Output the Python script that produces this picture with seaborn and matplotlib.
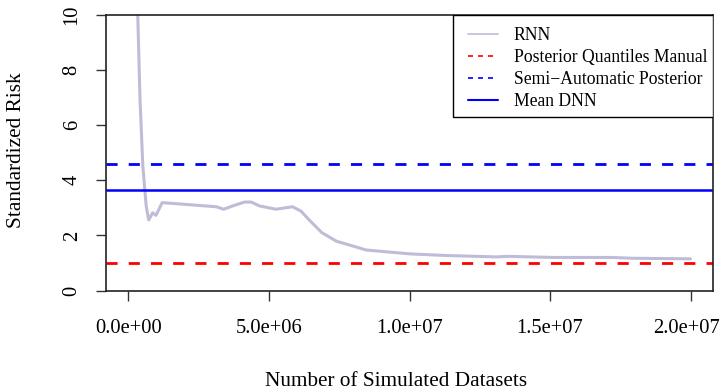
import numpy as np
import pandas as pd
import matplotlib
matplotlib.use('Agg')
import matplotlib.pyplot as plt
import matplotlib.transforms as mtransforms
import seaborn as sns
from matplotlib.lines import Line2D
from matplotlib.patches import Rectangle

# RNN risk curve
n_sims = [0.25e6, 0.33e6, 0.41e6, 0.51e6, 0.63e6, 0.72e6, 0.86e6, 0.98e6, 1.2e6,
          3.12e6, 3.39e6, 3.71e6, 4.13e6, 4.37e6, 4.66e6, 5.25e6, 5.84e6, 6.14e6,
          6.44e6, 6.88e6, 7.4e6, 8.46e6, 10.0e6, 11.3e6, 13.1e6, 13.5e6, 15.1e6,
          17.2e6, 17.95e6, 20.0e6]
rnn_risk = [14.0, 10.0, 6.95, 4.52, 3.07, 2.56, 2.82, 2.73, 3.19,
            3.04, 2.95, 3.07, 3.21, 3.21, 3.07, 2.95, 3.04, 2.88,
            2.55, 2.10, 1.79, 1.47, 1.33, 1.27, 1.22, 1.24, 1.20,
            1.20, 1.17, 1.15]

# horizontal reference levels
manual_risk = 1.0
semi_auto_risk = 4.58
dnn_risk = 3.66

labels = ['RNN', 'Posterior Quantiles Manual', 'Semi\u2212Automatic Posterior', 'Mean DNN']
rnn_col = '#bfbcd8'

sns.set_theme(style='ticks')
plt.rcParams['font.family'] = ['Liberation Serif', 'DejaVu Serif']
plt.rcParams['axes.unicode_minus'] = True
plt.rcParams['text.color'] = 'black'
plt.rcParams['axes.labelcolor'] = 'black'
plt.rcParams['xtick.color'] = 'black'
plt.rcParams['ytick.color'] = 'black'

df = pd.DataFrame({'n': n_sims, 'risk': rnn_risk})

W, H = 721, 392
L, R, T, B = 106, 713, 15, 290.5
fig = plt.figure(figsize=(W / 100, H / 100), dpi=100)
ax = fig.add_axes([L / W, 1 - B / H, (R - L) / W, (B - T) / H])

def axfrac(px, py):
    return (px - L) / (R - L), (B - py) / (B - T)

sns.lineplot(data=df, x='n', y='risk', ax=ax, color=rnn_col, lw=2.2, clip_on=True)
ax.axhline(manual_risk, color='#ff0000', lw=2.0, dashes=(4, 4))
ax.axhline(semi_auto_risk, color='#0000ff', lw=2.0, dashes=(4, 4))
ax.axhline(dnn_risk, color='#0000ff', lw=1.8)

ax.set_xlim(-0.8e6, 20.8e6)
ax.set_ylim(0, 10)
xt = [0, 5e6, 1e7, 1.5e7, 2e7]
ax.set_xticks(xt)
ax.set_xticklabels(['%.1e' % v for v in xt], fontsize=14.8)
ax.set_yticks([0, 2, 4, 6, 8, 10])
ax.set_yticklabels(['0', '2', '4', '6', '8', '10'], fontsize=14.8, rotation=90, va='center')
ax.tick_params(axis='both', length=7.5, width=1, color='#333333')
ax.tick_params(axis='x', pad=13)
ax.tick_params(axis='y', pad=10)
for s in ax.spines.values():
    s.set_color('#222222')
    s.set_linewidth(1.2)

# last x label sits a little left so it stays inside the figure
last = ax.get_xticklabels()[-1]
last.set_transform(last.get_transform() + mtransforms.ScaledTranslation(-4 / 100, 0, fig.dpi_scale_trans))

ax.set_xlabel('Number of Simulated Datasets', fontsize=15.3)
ax.xaxis.set_label_coords(*axfrac(396, 382))
ax.xaxis.label.set_va('center')
ax.set_ylabel('Standardized Risk', fontsize=15.3)
ax.yaxis.set_label_coords(*axfrac(17, 150))
ax.yaxis.label.set_va('center')

# legend frame drawn like R's legend box
x0, y0 = axfrac(453, 117)
ax.add_patch(Rectangle((x0, y0), 1 - x0, 1 - y0, transform=ax.transAxes,
                       facecolor='white', edgecolor='black', lw=1.0, zorder=4))

handles = [Line2D([], [], color=rnn_col, lw=1.2),
           Line2D([], [], color='#ff0000', lw=1.2, dashes=(3, 3)),
           Line2D([], [], color='#0000ff', lw=1.2, dashes=(3, 3)),
           Line2D([], [], color='#0000ff', lw=1.5)]
leg = ax.legend(handles, labels, loc='upper left', bbox_to_anchor=axfrac(468, 27),
                fontsize=12.7, frameon=False, borderaxespad=0, borderpad=0,
                handlelength=1.7, labelspacing=0.28, handletextpad=0.9)
leg.set_zorder(5)

fig.savefig('out.png', dpi=100)
